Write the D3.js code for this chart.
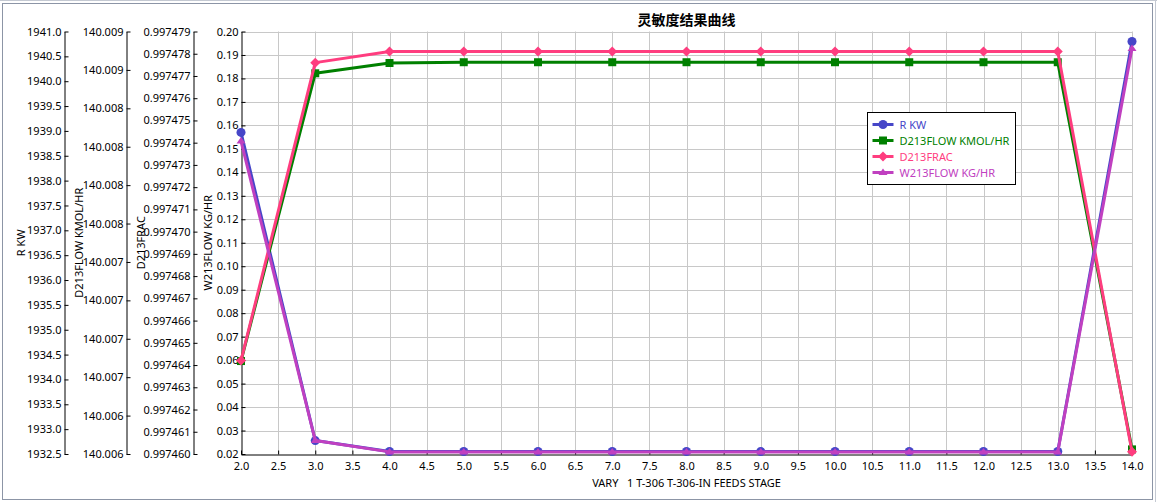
<!DOCTYPE html>
<html>
<head>
<meta charset="utf-8">
<script src="https://cdn.jsdelivr.net/npm/d3@7"></script>
<style>
    body { margin: 0; background: #fff; }
    text { font-family: "Noto Sans", "Open Sans", sans-serif; }
</style>
</head>
<body>
<div id="chart"></div>
<script>
// ---- data ----
const stages = [2, 3, 4, 5, 6, 7, 8, 9, 10, 11, 12, 13, 14];
const rKw = [1938.97, 1932.77, 1932.55, 1932.55, 1932.55, 1932.55, 1932.55, 1932.55, 1932.55, 1932.55, 1932.55, 1932.55, 1940.80];
const d213Flow = [140.006605, 140.008478, 140.008545, 140.00855, 140.00855, 140.00855, 140.00855, 140.00855, 140.00855, 140.00855, 140.00855, 140.00855, 140.00603];
const d213Frac = [0.9974642, 0.9974776, 0.9974781, 0.9974781, 0.9974781, 0.9974781, 0.9974781, 0.9974781, 0.9974781, 0.9974781, 0.9974781, 0.9974781, 0.9974601];
const w213Flow = [0.1533, 0.02575, 0.0209, 0.0209, 0.0209, 0.0209, 0.0209, 0.0209, 0.0209, 0.0209, 0.0209, 0.0209, 0.1928];

// tick values / labels
const xTicks = [2, 2.5, 3, 3.5, 4, 4.5, 5, 5.5, 6, 6.5, 7, 7.5, 8, 8.5, 9, 9.5, 10, 10.5, 11, 11.5, 12, 12.5, 13, 13.5, 14];
const rKwTicks = [1932.5, 1933, 1933.5, 1934, 1934.5, 1935, 1935.5, 1936, 1936.5, 1937, 1937.5, 1938, 1938.5, 1939, 1939.5, 1940, 1940.5, 1941];
const flowTicks = [140.006, 140.00625, 140.0065, 140.00675, 140.007, 140.00725, 140.0075, 140.00775, 140.008, 140.00825, 140.0085, 140.00875];
const flowLabels = ["140.006", "140.006", "140.007", "140.007", "140.007", "140.007", "140.008", "140.008", "140.008", "140.008", "140.009", "140.009"];
const fracTicks = [0.997460, 0.997461, 0.997462, 0.997463, 0.997464, 0.997465, 0.997466, 0.997467, 0.997468, 0.997469,
    0.997470, 0.997471, 0.997472, 0.997473, 0.997474, 0.997475, 0.997476, 0.997477, 0.997478, 0.997479];
const wTicks = [0.02, 0.03, 0.04, 0.05, 0.06, 0.07, 0.08, 0.09, 0.10, 0.11, 0.12, 0.13, 0.14, 0.15, 0.16, 0.17, 0.18, 0.19, 0.20];

const width = 1157, height = 502;
const plot = { left: 241, right: 1132, top: 31.5, bottom: 454 };

let svg = d3.select("#chart")
    .append("svg")
    .attr("width", width)
    .attr("height", height);

svg.append("rect").attr("width", width).attr("height", height).attr("fill", "#fff");

// window frame
svg.append("line").attr("x1", 0).attr("x2", width).attr("y1", 0.5).attr("y2", 0.5).attr("stroke", "#c4c9d2");
svg.append("line").attr("x1", 1155.5).attr("x2", 1155.5).attr("y1", 0).attr("y2", height).attr("stroke", "#c4c9d2");
svg.append("rect")
    .attr("x", 2.5).attr("y", 3.5)
    .attr("width", 1150).attr("height", 496)
    .attr("fill", "none")
    .attr("stroke", "#8c95a6");

// scales
let x = d3.scaleLinear().domain([2, 14]).range([plot.left, plot.right]);
let yR = d3.scaleLinear().domain([1932.5, 1941]).range([plot.bottom, plot.top]);
let yFlow = d3.scaleLinear().domain([140.006, 140.00875]).range([plot.bottom, plot.top]);
let yFrac = d3.scaleLinear().domain([0.997460, 0.997479]).range([plot.bottom, plot.top]);
let yW = d3.scaleLinear().domain([0.02, 0.20]).range([plot.bottom, plot.top]);

// grid
let grid = svg.append("g").attr("class", "grid").attr("stroke", "#c8c8c8").attr("stroke-width", 1);
grid.selectAll(".gx")
    .data(xTicks.slice(1))
    .enter()
    .append("line")
    .attr("x1", d => Math.round(x(d)) + 0.5).attr("x2", d => Math.round(x(d)) + 0.5)
    .attr("y1", plot.top).attr("y2", plot.bottom);
grid.selectAll(".gy")
    .data(wTicks.slice(1))
    .enter()
    .append("line")
    .attr("y1", d => Math.round(yW(d)) + 0.5).attr("y2", d => Math.round(yW(d)) + 0.5)
    .attr("x1", plot.left).attr("x2", plot.right);

// left axes, ticks pointing inward (to the right)
function leftAxis(scale, ticks, fmt, xPos, title, titleX) {
    let g = svg.append("g")
        .attr("class", "y-axis")
        .attr("transform", `translate(${xPos}, 0)`)
        .call(d3.axisLeft(scale)
            .tickValues(ticks)
            .tickFormat(fmt)
            .tickSizeInner(-4)
            .tickSizeOuter(0)
            .tickPadding(3));
    g.select(".domain").attr("stroke", "#000");
    g.selectAll(".tick line").attr("stroke", "#000");
    g.selectAll("text").attr("font-size", 11).attr("fill", "#000")
        .style("font-family", '"Noto Sans", sans-serif');
    svg.append("text")
        .attr("transform", `translate(${titleX}, ${(plot.top + plot.bottom) / 2}) rotate(-90)`)
        .attr("text-anchor", "middle")
        .attr("dominant-baseline", "central")
        .attr("font-size", 11)
        .attr("fill", "#000")
        .text(title);
}

leftAxis(yR, rKwTicks, d => d.toFixed(1), 64.5, "R KW", 20);
leftAxis(yFlow, flowTicks, (d, i) => flowLabels[i], 126.5, "D213FLOW KMOL/HR", 78);
leftAxis(yFrac, fracTicks, d => d.toFixed(6), 193.5, "D213FRAC", 140);
leftAxis(yW, wTicks, d => d.toFixed(2), 241.5, "W213FLOW KG/HR", 207);

// bottom axis
let xAxis = svg.append("g")
    .attr("class", "x-axis")
    .attr("transform", `translate(0, ${plot.bottom + 0.5})`)
    .call(d3.axisBottom(x)
        .tickValues(xTicks)
        .tickFormat(d => d.toFixed(1))
        .tickSizeInner(-4)
        .tickSizeOuter(0)
        .tickPadding(8));
xAxis.select(".domain").attr("stroke", "#000");
xAxis.selectAll(".tick line").attr("stroke", "#000");
xAxis.selectAll("text").attr("font-size", 11).attr("fill", "#000")
    .style("font-family", '"Noto Sans", sans-serif');

svg.append("text")
    .attr("x", (plot.left + plot.right) / 2)
    .attr("y", 487)
    .attr("text-anchor", "middle")
    .attr("font-size", 11)
    .attr("fill", "#000")
    .style("white-space", "pre")
    .text("VARY   1 T-306 T-306-IN FEEDS STAGE");

// title
svg.append("text")
    .attr("x", (plot.left + plot.right) / 2)
    .attr("y", 25)
    .attr("text-anchor", "middle")
    .attr("font-size", 14)
    .attr("font-weight", "bold")
    .attr("fill", "#000")
    .style("font-family", '"Noto Sans CJK SC", sans-serif')
    .text("灵敏度结果曲线");

// series
const markers = {
    circle: d3.symbol().type(d3.symbolCircle).size(64)(),
    square: "M-4,-4H4V4H-4Z",
    diamond: "M0,-5L5,0L0,5L-5,0Z",
    triangle: "M0,-4L4.5,2.5L-4.5,2.5Z"
};
const series = [
    { name: "R KW", values: rKw, y: yR, color: "#4646c8", marker: "circle" },
    { name: "D213FLOW KMOL/HR", values: d213Flow, y: yFlow, color: "#008000", marker: "square" },
    { name: "D213FRAC", values: d213Frac, y: yFrac, color: "#ff3d7f", marker: "diamond" },
    { name: "W213FLOW KG/HR", values: w213Flow, y: yW, color: "#c040c0", marker: "triangle" }
];

series.forEach(function (s) {
    let pts = stages.map((st, i) => [x(st), s.y(s.values[i])]);
    svg.append("path")
        .attr("d", d3.line()(pts))
        .attr("fill", "none")
        .attr("stroke", s.color)
        .attr("stroke-width", 3)
        .attr("stroke-linejoin", "round");
    svg.append("g")
        .selectAll("path")
        .data(pts)
        .enter()
        .append("path")
        .attr("transform", d => `translate(${d[0]}, ${d[1]})`)
        .attr("d", markers[s.marker])
        .attr("fill", s.color);
});

// legend
let legend = svg.append("g").attr("transform", "translate(867.5, 112.5)");
legend.append("rect")
    .attr("width", 148).attr("height", 72)
    .attr("fill", "#fff")
    .attr("stroke", "#000");
series.forEach(function (s, i) {
    let ly = 12 + i * 16;
    legend.append("line")
        .attr("x1", 5).attr("x2", 26)
        .attr("y1", ly).attr("y2", ly)
        .attr("stroke", s.color)
        .attr("stroke-width", 3);
    legend.append("path")
        .attr("transform", `translate(15.5, ${ly})`)
        .attr("d", markers[s.marker])
        .attr("fill", s.color);
    legend.append("text")
        .attr("x", 32)
        .attr("y", ly)
        .attr("dominant-baseline", "central")
        .attr("font-size", 11)
        .attr("fill", s.color)
        .text(s.name);
});
</script>
</body>
</html>
